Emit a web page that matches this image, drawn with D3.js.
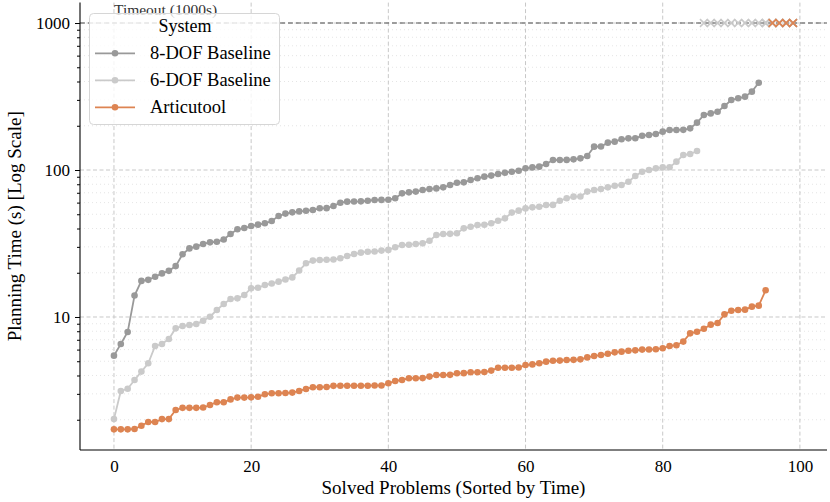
<!DOCTYPE html>
<html><head><meta charset="utf-8">
<script src="https://cdn.jsdelivr.net/npm/d3@7"></script>
<style>
html,body{margin:0;padding:0;background:#fff;}
svg{display:block;font-family:"Liberation Serif","Times New Roman",serif;}
</style></head>
<body>
<svg id="chart" width="830" height="502"></svg>
<script>
// ---------- data ----------
const seriesNames = ["8-DOF Baseline", "6-DOF Baseline", "Articutool"];
const seriesColors = ["#999999", "#cacaca", "#dd8452"];

const eightDof = [5.46,6.55,7.9,14.0,17.6,17.9,18.8,19.8,20.6,22.2,
  26.7,29.3,30.1,31.4,32.2,32.5,33.7,36.7,39.5,40.3,
  41.6,42.5,43.4,45.0,48.6,50.5,51.5,52.3,52.8,53.5,
  54.9,55.0,56.9,59.9,60.9,61.0,61.2,61.8,62.5,62.6,
  62.8,64.2,69.4,70.5,71.3,73.1,74.3,75.0,76.2,79.1,
  82.0,82.4,85.5,87.8,90.1,91.6,94.0,95.9,97.4,98.9,
  102.6,104.2,105.4,110.0,116.9,117.0,117.2,118.2,120.0,124.5,
  144.2,144.5,153.5,155.9,161.8,164.2,164.5,171.1,173.1,175.8,
  182.4,187.1,187.3,187.6,192.0,210,236.6,242.7,249.2,272.4,
  299.5,307.6,315.6,341.4,392.6];

const sixDof = [2.02,3.14,3.25,3.73,4.25,4.84,6.35,6.55,7.08,8.37,
  8.68,8.82,8.96,9.44,10.05,11.16,12.25,13.25,13.39,14.1,
  15.7,15.8,16.5,16.9,17.4,18.0,18.6,20.7,23.2,24.2,
  24.4,24.5,24.6,25.1,26.0,26.8,27.4,27.8,27.9,28.3,
  28.6,29.8,30.9,31.0,31.4,31.7,33.0,36.1,36.7,36.8,
  37.1,40.1,41.1,42.3,42.4,43.4,45.2,46.9,51.3,52.9,
  54.8,55.7,56.2,57.8,57.9,61.8,64.2,65.9,66.0,71.3,
  73.1,74.3,76.2,78.2,79.1,83.3,91.0,97.4,100,102.6,
  104.2,104.3,114,126.5,128.5,134.6];

const articutool = [1.72,1.72,1.72,1.73,1.82,1.93,1.93,2.02,2.02,2.33,
  2.41,2.41,2.41,2.42,2.52,2.63,2.63,2.75,2.83,2.83,
  2.84,2.87,2.98,3.03,3.03,3.04,3.06,3.14,3.24,3.33,
  3.33,3.34,3.40,3.41,3.41,3.41,3.41,3.41,3.42,3.42,
  3.54,3.67,3.73,3.83,3.83,3.84,3.93,4.03,4.03,4.04,
  4.14,4.15,4.21,4.21,4.22,4.32,4.52,4.52,4.52,4.53,
  4.71,4.76,4.84,4.97,5.04,5.05,5.10,5.11,5.15,5.31,
  5.43,5.51,5.62,5.75,5.81,5.90,5.93,6.00,6.01,6.03,
  6.13,6.35,6.43,6.80,7.74,7.94,8.32,8.87,9.10,10.42,
  11.04,11.17,11.22,11.76,11.95,15.19];

// problems that hit the timeout (plotted at the timeout value)
const eightDofTimeouts = [95,96,97,98,99];
const sixDofTimeouts = [86,87,88,89,90,91,92,93,94,95,96,97,98,99];
const articutoolTimeouts = [96,97,98,99];
const timeoutValue = 1000;

const xTicks = [0,20,40,60,80,100];
const yTicks = [10,100,1000];
const yMinorTicks = [2,3,4,5,6,7,8,9,20,30,40,50,60,70,80,90,200,300,400,500,600,700,800,900];

const xLabel = "Solved Problems (Sorted by Time)";
const yLabel = "Planning Time (s) [Log Scale]";
const timeoutLabel = "Timeout (1000s)";
const legendTitle = "System";

// ---------- chart ----------
const svg = d3.select("#chart");
const L = 80, R = 827, T = 2.6, B = 450;

const x = d3.scaleLinear().domain([-4.95, 103.95]).range([L, R]);
const y = d3.scaleLog().domain([1.245, 1377]).range([B, T]);

// minor grid
svg.append("g").selectAll("line").data(yMinorTicks).join("line")
  .attr("x1", L).attr("x2", R)
  .attr("y1", d => y(d)).attr("y2", d => y(d))
  .attr("stroke", "#dedede").attr("stroke-width", 0.8)
  .attr("stroke-dasharray", "1,3");

// major grid
svg.append("g").selectAll("line").data(yTicks).join("line")
  .attr("x1", L).attr("x2", R)
  .attr("y1", d => y(d)).attr("y2", d => y(d))
  .attr("stroke", "#c8c8c8").attr("stroke-width", 1)
  .attr("stroke-dasharray", "4,2.5");
svg.append("g").selectAll("line").data(xTicks).join("line")
  .attr("x1", d => x(d)).attr("x2", d => x(d))
  .attr("y1", T).attr("y2", B)
  .attr("stroke", "#c8c8c8").attr("stroke-width", 1)
  .attr("stroke-dasharray", "4,2.5");

// timeout line
svg.append("line")
  .attr("x1", L).attr("x2", R)
  .attr("y1", y(timeoutValue)).attr("y2", y(timeoutValue))
  .attr("stroke", "#555").attr("stroke-width", 1.1)
  .attr("stroke-dasharray", "5,3");
svg.append("text")
  .attr("x", x(0)).attr("y", y(1140))
  .attr("font-size", 15.5).attr("fill", "#333")
  .text(timeoutLabel);

// series
const allSeries = [
  {vals: eightDof, to: eightDofTimeouts},
  {vals: sixDof, to: sixDofTimeouts},
  {vals: articutool, to: articutoolTimeouts}
];
const line = d3.line().x((d, i) => x(i)).y(d => y(d));

allSeries.forEach((s, k) => {
  const g = svg.append("g");
  g.append("path").datum(s.vals)
    .attr("d", line).attr("fill", "none")
    .attr("stroke", seriesColors[k]).attr("stroke-width", 1.8);
  g.selectAll("circle").data(s.vals).join("circle")
    .attr("cx", (d, i) => x(i)).attr("cy", d => y(d))
    .attr("r", 3.3).attr("fill", seriesColors[k]);
  const sz = 3.9;
  g.selectAll("path.to").data(s.to).join("path")
    .attr("class", "to")
    .attr("d", d => {
      const cx = x(d), cy = y(timeoutValue);
      return `M${cx - sz},${cy - sz}L${cx + sz},${cy + sz}M${cx - sz},${cy + sz}L${cx + sz},${cy - sz}`;
    })
    .attr("stroke", seriesColors[k]).attr("stroke-width", 1.6).attr("fill", "none");
});

// axes
const yAxis = svg.append("g").attr("transform", `translate(${L},0)`)
  .call(d3.axisLeft(y).tickValues(yTicks).tickFormat(d3.format("d")).tickSize(5).tickPadding(5));
svg.append("g").attr("transform", `translate(${L},0)`)
  .call(d3.axisLeft(y).tickValues(yMinorTicks).tickFormat("").tickSize(3))
  .call(g => g.select(".domain").remove());
yAxis.selectAll("text").attr("font-size", 17).attr("font-family", "Liberation Serif").attr("fill", "#000");
yAxis.select(".domain").attr("d", `M0,${T}V${B}`).attr("stroke", "#000").attr("stroke-width", 1.1);

const xAxis = svg.append("g").attr("transform", `translate(0,${B})`)
  .call(d3.axisBottom(x).tickValues(xTicks).tickSize(0).tickPadding(10));
xAxis.selectAll("text").attr("font-size", 17).attr("font-family", "Liberation Serif").attr("fill", "#000");
xAxis.select(".domain").attr("d", `M${L},0H${R}`).attr("stroke", "#000").attr("stroke-width", 1.1);
svg.selectAll(".tick line").attr("stroke", "#000");

// axis labels
svg.append("text").attr("x", (L + R) / 2).attr("y", 494)
  .attr("text-anchor", "middle").attr("font-size", 19).text(xLabel);
svg.append("text").attr("transform", `translate(21,${(T + B) / 2}) rotate(-90)`)
  .attr("text-anchor", "middle").attr("font-size", 19).text(yLabel);

// legend
const lg = svg.append("g");
lg.append("rect").attr("x", 89.5).attr("y", 13.5).attr("width", 190).attr("height", 111)
  .attr("rx", 4).attr("fill", "#fff").attr("fill-opacity", 0.8)
  .attr("stroke", "#d6d6d6").attr("stroke-width", 1);
lg.append("text").attr("x", 185).attr("y", 32).attr("text-anchor", "middle")
  .attr("font-size", 18).text(legendTitle);
seriesNames.forEach((n, k) => {
  const cy = 53.3 + k * 27;
  lg.append("line").attr("x1", 95).attr("x2", 135).attr("y1", cy).attr("y2", cy)
    .attr("stroke", seriesColors[k]).attr("stroke-width", 1.8);
  lg.append("circle").attr("cx", 115).attr("cy", cy).attr("r", 3.3).attr("fill", seriesColors[k]);
  lg.append("text").attr("x", 150).attr("y", cy + 6).attr("font-size", 18.5).text(n);
});
</script>
</body></html>
